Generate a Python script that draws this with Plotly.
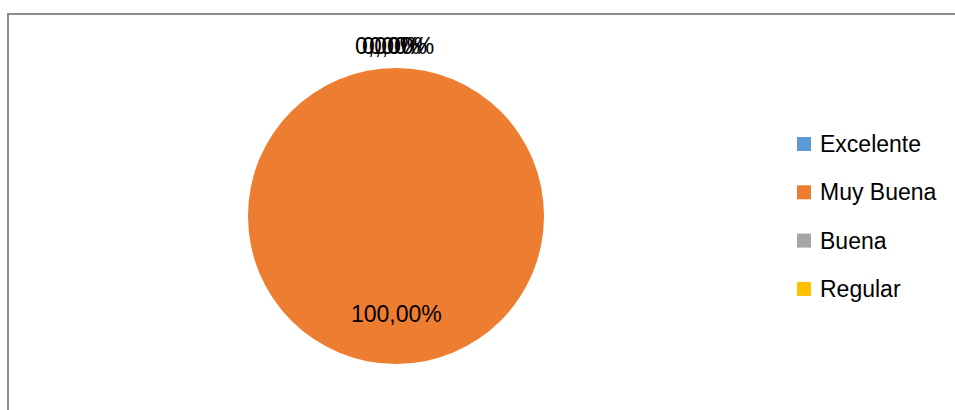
import plotly.graph_objects as go

# Survey results
categories = ["Excelente", "Muy Buena", "Buena", "Regular"]
values = [0, 100, 0, 0]
colors = ["#5B9BD5", "#ED7D31", "#A5A5A5", "#FFC000"]

W, H = 955, 410
FONT = "Liberation Sans"

total = sum(values)
pcts = [v / total * 100 for v in values]


def fmt_pct(p):
    return f"{p:.2f}".replace(".", ",") + "%"


def px(x):
    return x / W


def py(y):
    return 1 - y / H


cx, cy, r = 396, 216, 148

fig = go.Figure(
    go.Pie(
        labels=categories,
        values=values,
        marker=dict(colors=colors, line=dict(width=0)),
        textinfo="none",
        hoverinfo="label+percent",
        sort=False,
        direction="clockwise",
        rotation=0,
        showlegend=False,
        domain=dict(x=[px(cx - r), px(cx + r)], y=[py(cy + r), py(cy - r)]),
    )
)

annotations = []
# Labels for the zero slices stack up at the top of the pie
zero_x = [353, 360, 367, 374]
zi = 0
for cat, p in zip(categories, pcts):
    if p == 0:
        annotations.append(dict(
            x=px(zero_x[zi]), y=py(46), xref="paper", yref="paper",
            text=fmt_pct(p), showarrow=False, xanchor="left", yanchor="middle",
            font=dict(family=FONT, size=23, color="#000000"),
        ))
        zi += 1
    else:
        annotations.append(dict(
            x=px(cx), y=py(314), xref="paper", yref="paper",
            text=fmt_pct(p), showarrow=False, xanchor="center", yanchor="middle",
            font=dict(family=FONT, size=23, color="#000000"),
        ))

# Legend on the right
shapes = []
leg_y0, leg_dy = 144, 48.3
for i, (cat, col) in enumerate(zip(categories, colors)):
    yc = leg_y0 + i * leg_dy
    shapes.append(dict(
        type="rect", xref="paper", yref="paper",
        x0=px(797), x1=px(811), y0=py(yc + 7), y1=py(yc - 7),
        fillcolor=col, line=dict(width=0),
    ))
    annotations.append(dict(
        x=px(818), y=py(yc), xref="paper", yref="paper",
        text=cat, showarrow=False, xanchor="left", yanchor="middle",
        font=dict(family=FONT, size=23, color="#000000"),
    ))

# Chart area border (left and top edges)
shapes.append(dict(
    type="path", xref="paper", yref="paper",
    path=f"M {px(8)},{py(H + 5)} L {px(8)},{py(14)} L {px(W + 5)},{py(14)}",
    line=dict(color="#8C8C8C", width=2),
))

fig.update_layout(
    width=W, height=H,
    margin=dict(l=0, r=0, t=0, b=0),
    paper_bgcolor="white", plot_bgcolor="white",
    annotations=annotations, shapes=shapes,
    showlegend=False,
)

fig.write_html("out.html")
